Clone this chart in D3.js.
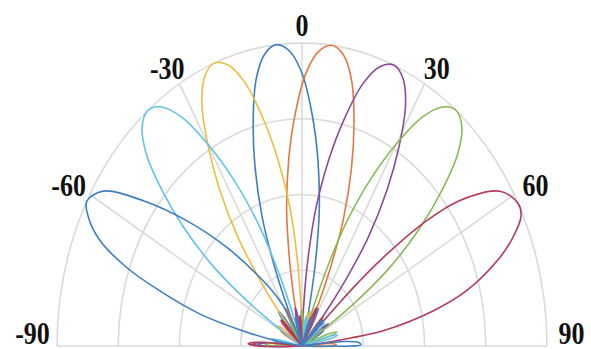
<!DOCTYPE html>
<html><head><meta charset="utf-8">
<script src="https://cdn.jsdelivr.net/npm/d3@7"></script>
<style>html,body{margin:0;padding:0;background:#fff;}svg{display:block;}</style>
</head><body>
<script>
// Angle tick labels (degrees)
const angleTicks = [-90, -60, -30, 0, 30, 60, 90];
const gridSpokes = [-60, -30, 0, 30, 60];
const ringLevels = [0.25, 0.5, 0.75, 1.0];

// Beam patterns: [angle (deg), normalised magnitude]
const beamBlueA = [[-90,0],[-90,0.15],[-88,0.18],[-86,0.14],[-83,0],[-44,0],[-42,0.12],[-40,0.15],[-38,0.12],[-36,0],
  [-27,0],[-26,0.07],[-24.5,0.18],[-23,0.3],[-21,0.45],[-18,0.62],[-15,0.77],[-12,0.9],[-9,0.975],[-6,1],[-3,0.975],[0,0.9],[3,0.77],[6,0.62],[9,0.45],[11,0.3],[12.5,0.18],[14,0.07],[15,0],
  [24,0],[26,0.11],[28,0.14],[30,0.11],[32,0],[56,0],[58,0.08],[60,0.1],[62,0.08],[64,0]];
const beamOrange = [[-64,0],[-62,0.08],[-60,0.1],[-58,0.08],[-56,0],[-32,0],[-30,0.11],[-28,0.14],[-26,0.11],[-24,0],
  [-14,0],[-13,0.07],[-11.5,0.18],[-10,0.3],[-8,0.45],[-5,0.62],[-2,0.77],[1,0.9],[4,0.975],[7,1],[10,0.975],[13,0.9],[16,0.77],[19,0.62],[22,0.45],[24,0.3],[25.5,0.18],[27,0.07],[28,0],
  [38,0],[40,0.1],[42,0.13],[44,0.1],[46,0],[83,0],[86,0.12],[88,0.14],[90,0.12],[90,0]];
const beamYellow = [[-89,0],[-87,0.1],[-85,0.12],[-83,0.1],[-81,0],[-60,0],[-58,0.1],[-56,0.12],[-54,0.1],[-52,0],
  [-42,0],[-41,0.07],[-39.5,0.18],[-38,0.3],[-36,0.45],[-33,0.62],[-30,0.77],[-27,0.9],[-24,0.975],[-21,1],[-18,0.975],[-15,0.9],[-12,0.77],[-9,0.62],[-6,0.45],[-4,0.3],[-2.5,0.18],[-1,0.07],[0,0],
  [12,0],[14,0.1],[16,0.12],[18,0.1],[20,0],[42,0],[44,0.08],[46,0.1],[48,0.08],[50,0]];
const beamPurple = [[-90,0],[-90,0.16],[-88,0.2],[-86,0.16],[-83,0],[-49,0],[-47,0.1],[-45,0.12],[-43,0.1],[-41,0],[-16,0],[-14,0.1],[-12,0.13],[-10,0.1],[-8,0],
  [1,0],[2,0.07],[3.5,0.18],[5,0.3],[7,0.45],[10,0.62],[13,0.77],[16,0.9],[19,0.975],[22,1],[25,0.975],[28,0.9],[31,0.77],[34,0.62],[37,0.45],[39,0.3],[40.5,0.18],[42,0.07],[43,0],
  [52,0],[54,0.1],[56,0.13],[58,0.1],[60,0]];
const beamGreen = [[-90,0],[-90,0.12],[-88,0.15],[-86,0.12],[-83,0],[-34,0],[-32,0.08],[-30,0.1],[-28,0.08],[-26,0],[-4,0],[-2,0.1],[0,0.12],[2,0.1],[4,0],
  [18,0],[19,0.07],[20.5,0.18],[22,0.3],[24,0.45],[27,0.62],[30,0.77],[33,0.9],[36,0.975],[39,1],[42,0.975],[45,0.9],[48,0.77],[51,0.62],[54,0.45],[56,0.3],[57.5,0.18],[59,0.07],[60,0],
  [68,0],[70,0.12],[72,0.15],[74,0.12],[76,0]];
const beamLightBlue = [[-84,0],[-82,0.1],[-80,0.13],[-78,0.1],[-76,0],
  [-60,0],[-59,0.07],[-57.5,0.18],[-56,0.3],[-54,0.45],[-51,0.62],[-48,0.77],[-45,0.9],[-42,0.975],[-39,1],[-36,0.975],[-33,0.9],[-30,0.77],[-27,0.62],[-24,0.45],[-22,0.3],[-20.5,0.18],[-19,0.07],[-18,0],
  [6,0],[8,0.08],[10,0.1],[12,0.08],[14,0],[46,0],[48,0.1],[50,0.12],[52,0.1],[54,0],[72,0],[74,0.12],[76,0.15],[78,0.12],[80,0]];
const beamRed = [[-90,0],[-90,0.18],[-88,0.22],[-86,0.18],[-83,0],[-49,0],[-47,0.1],[-45,0.12],[-43,0.1],[-41,0],[-9,0],[-7,0.08],[-5,0.1],[-3,0.08],[-1,0],[21,0],[23,0.11],[25,0.14],[27,0.11],[29,0],
  [45,0],[46.5,0.1],[47,0.2],[47.5,0.3],[48.6,0.44],[50.9,0.656],[53.3,0.804],[57.7,0.956],[62,1.0],[64.5,0.99],[67.5,0.93],[70.1,0.859],[74.8,0.696],[77.8,0.547],[81.4,0.335],[82.5,0.2],[83.5,0.1],[84.5,0]];
const beamBlueB = [[-82.5,0],[-80.8,0.105],[-78.3,0.245],[-75.8,0.429],[-72.6,0.608],[-70.1,0.761],[-67.1,0.895],[-64,0.97],[-61.5,1.0],[-57.8,0.959],[-53.5,0.806],[-48.7,0.627],[-43.3,0.447],[-37.2,0.284],[-32,0.19],[-27,0.1],[-23,0],
  [-19,0],[-17,0.08],[-15,0.1],[-13,0.08],[-11,0],[16,0],[18,0.08],[20,0.1],[22,0.08],[24,0],[41,0],[43,0.1],[45,0.12],[47,0.1],[49,0],
  [83,0],[85,0.17],[87,0.23],[89,0.24],[90,0.2],[90,0]];

const beams = [beamBlueA, beamOrange, beamYellow, beamPurple, beamGreen, beamLightBlue, beamRed, beamBlueB];
const beamColors = ["#3b7fc2", "#e5773f", "#efbd3c", "#8c4a9c", "#8ab955", "#62c2ea", "#b63a5a", "#3b7fc2"];

const W = 591, H = 349;
const cx = 302, cy = 346;
const svg = d3.select("body").append("svg").attr("width", W).attr("height", H);

const ang = d3.scaleLinear().domain([-90, 90]).range([-Math.PI / 2, Math.PI / 2]);
const rx = d3.scaleLinear().domain([0, 1]).range([0, 245]);
const ry = d3.scaleLinear().domain([0, 1]).range([0, 303]);
const px = d => cx + rx(d[1]) * Math.sin(ang(d[0]));
const py = d => cy - ry(d[1]) * Math.cos(ang(d[0]));

const grid = svg.append("g").attr("fill", "none").attr("stroke", "#dadada").attr("stroke-width", 1.6);
ringLevels.forEach(r => {
  grid.append("path").attr("d",
    `M${cx - rx(r)},${cy} A${rx(r)},${ry(r)} 0 0 1 ${cx + rx(r)},${cy}`);
});
gridSpokes.forEach(a => {
  grid.append("line").attr("x1", cx).attr("y1", cy).attr("x2", px([a, 1])).attr("y2", py([a, 1]));
});
grid.append("line").attr("x1", px([-90, 1])).attr("y1", cy).attr("x2", px([90, 1])).attr("y2", cy);

const line = d3.line().x(px).y(py).curve(d3.curveCatmullRom.alpha(0.5));
const bg = svg.append("g").attr("fill", "none").attr("stroke-width", 1.6).attr("stroke-linejoin", "round");
beams.forEach((b, i) => {
  bg.append("path").attr("d", line(b)).attr("stroke", beamColors[i]);
});

const lab = svg.append("g").attr("font-family", "'Liberation Serif','Times New Roman',serif")
  .attr("font-weight", "bold").attr("font-size", 26).attr("fill", "#111");
angleTicks.forEach(a => {
  const x = cx + rx(1.1) * Math.sin(ang(a));
  let y = cy - ry(1.06) * Math.cos(ang(a));
  if (Math.abs(a) === 90) y = 333;
  lab.append("text").attr("transform", `translate(${x},${y}) scale(1,1.2)`)
    .attr("text-anchor", "middle").attr("dy", "0.35em").text(a);
});
</script>
</body></html>
